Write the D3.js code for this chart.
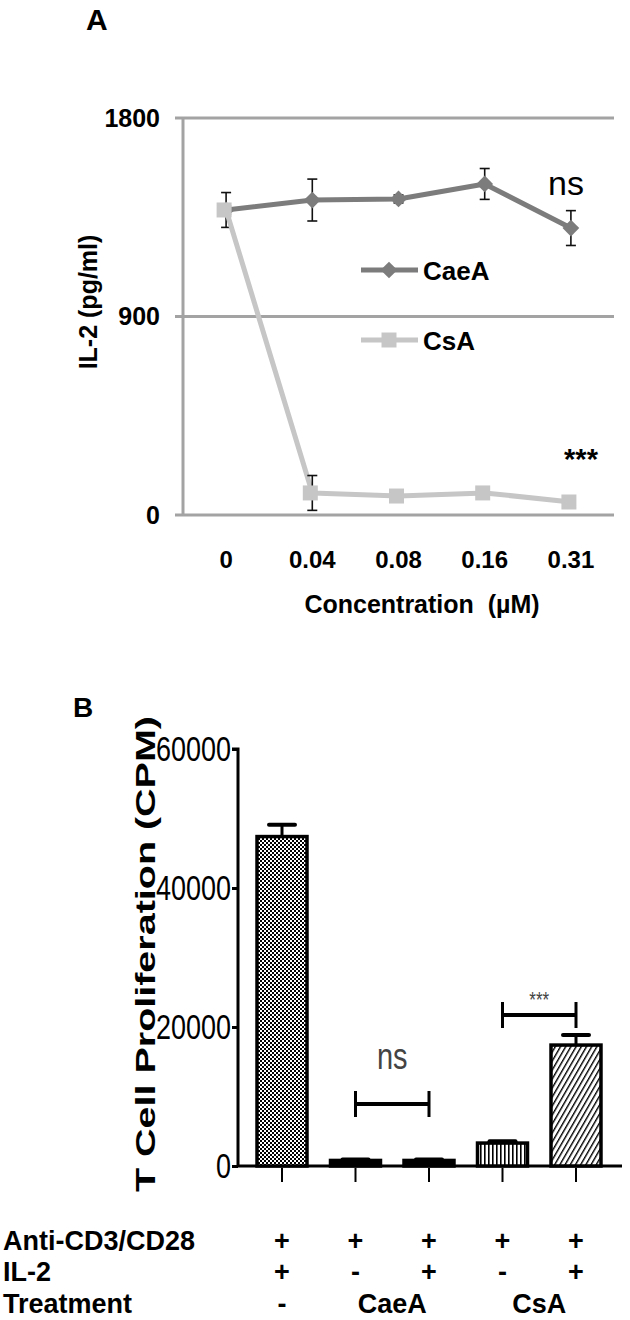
<!DOCTYPE html>
<html>
<head>
<meta charset="utf-8">
<script src="https://cdn.jsdelivr.net/npm/d3@7"></script>
<style>
  html, body { margin: 0; padding: 0; background: #fff; }
  svg { display: block; }
  text { font-family: "Liberation Sans", Arial, Helvetica, sans-serif; }
</style>
</head>
<body>
<svg id="chart" width="630" height="1320"></svg>
<script>
// ---------- Panel A data ----------
const concCategories = ["0", "0.04", "0.08", "0.16", "0.31"];
const caeaValues = [1383, 1428, 1433, 1501, 1301];
const caeaErrors = [79, 95, 18, 70, 79];
const csaValues = [1383, 100, 86, 100, 59];
const csaErrors = [20, 79, 12, 12, 12];
const yTicksA = [0, 900, 1800];
const seriesNamesA = ["CaeA", "CsA"];

// ---------- Panel B data ----------
const groupKeys = ["ctrl", "caeaNoIL2", "caeaIL2", "csaNoIL2", "csaIL2"];
const proliferationValues = [47400, 800, 800, 3300, 17400];
const proliferationErrors = [1700, 150, 150, 250, 1450];
const yTicksB = [0, 20000, 40000, 60000];
const rowLabels = ["Anti-CD3/CD28", "IL-2", "Treatment"];
const antiCD3Row = ["+", "+", "+", "+", "+"];
const il2Row = ["+", "-", "+", "-", "+"];
const treatmentLabels = ["-", "CaeA", "CsA"];
const treatmentSpans = [[0, 0], [1, 2], [3, 4]];

const svg = d3.select("#chart");

// ======================= PANEL A =======================
const xA = d3.scaleBand().domain(concCategories).range([183, 614]);
const yA = d3.scaleLinear().domain([0, 1800]).range([515, 118]);
const cx = c => xA(c) + xA.bandwidth() / 2;
const gridColor = "#a3a3a3";
const caeaColor = "#7c7c7c";
const csaColor = "#c6c6c6";

svg.append("text").attr("x", 86).attr("y", 30)
  .attr("font-size", 30).attr("font-weight", "bold").text("A");

const gA = svg.append("g");
gA.selectAll("line.grid").data(yTicksA).join("line")
  .attr("x1", 175).attr("x2", 614)
  .attr("y1", d => yA(d)).attr("y2", d => yA(d))
  .attr("stroke", gridColor).attr("stroke-width", 3);
gA.append("line").attr("x1", 183).attr("x2", 183)
  .attr("y1", yA(1800)).attr("y2", yA(0))
  .attr("stroke", gridColor).attr("stroke-width", 3);

gA.selectAll("text.ytick").data(yTicksA).join("text")
  .attr("x", 160).attr("y", d => yA(d)).attr("dy", "0.35em")
  .attr("text-anchor", "end").attr("font-size", 25).attr("font-weight", "bold")
  .text(d => d);

gA.selectAll("text.xtick").data(concCategories).join("text")
  .attr("x", d => cx(d)).attr("y", 568)
  .attr("text-anchor", "middle").attr("font-size", 24).attr("font-weight", "bold")
  .text(d => d);

gA.append("text").attr("x", 422).attr("y", 613)
  .attr("text-anchor", "middle").attr("font-size", 25).attr("font-weight", "bold")
  .attr("xml:space", "preserve")
  .text("Concentration  (\u00B5M)");
gA.append("text")
  .attr("transform", "translate(97,302) rotate(-90)")
  .attr("text-anchor", "middle").attr("font-size", 25).attr("font-weight", "bold")
  .text("IL-2 (pg/ml)");

const lineA = d3.line().x((d, i) => cx(concCategories[i])).y(d => yA(d));
const diamond = d3.symbol().type(d3.symbolSquare).size(140);
const square = d3.symbol().type(d3.symbolSquare).size(225);

function errorBars(g, vals, errs) {
  const eb = g.append("g").attr("stroke", "#111").attr("stroke-width", 1.6);
  vals.forEach((v, i) => {
    const x = cx(concCategories[i]);
    eb.append("line").attr("x1", x).attr("x2", x).attr("y1", yA(v - errs[i])).attr("y2", yA(v + errs[i]));
    eb.append("line").attr("x1", x - 5).attr("x2", x + 5).attr("y1", yA(v - errs[i])).attr("y2", yA(v - errs[i]));
    eb.append("line").attr("x1", x - 5).attr("x2", x + 5).attr("y1", yA(v + errs[i])).attr("y2", yA(v + errs[i]));
  });
}

// CaeA series
gA.append("path").datum(caeaValues).attr("d", lineA)
  .attr("fill", "none").attr("stroke", caeaColor).attr("stroke-width", 5).attr("stroke-linejoin", "round");
errorBars(gA, caeaValues, caeaErrors);
gA.selectAll("path.caeaMk").data(caeaValues).join("path")
  .attr("d", diamond).attr("fill", caeaColor)
  .attr("transform", (d, i) => `translate(${cx(concCategories[i])},${yA(d)}) rotate(45)`);

// CsA series
gA.append("path").datum(csaValues).attr("d", lineA)
  .attr("fill", "none").attr("stroke", csaColor).attr("stroke-width", 5).attr("stroke-linejoin", "round");
errorBars(gA, csaValues, csaErrors);
gA.selectAll("path.csaMk").data(csaValues).join("path")
  .attr("d", square).attr("fill", csaColor)
  .attr("transform", (d, i) => `translate(${cx(concCategories[i]) - 2},${yA(d)})`);

// legend
const legY = [270, 340];
seriesNamesA.forEach((name, i) => {
  const col = i === 0 ? caeaColor : csaColor;
  gA.append("line").attr("x1", 361).attr("x2", 418).attr("y1", legY[i]).attr("y2", legY[i])
    .attr("stroke", col).attr("stroke-width", 5);
  gA.append("path").attr("d", i === 0 ? diamond : square).attr("fill", col)
    .attr("transform", `translate(389,${legY[i]})` + (i === 0 ? " rotate(45)" : ""));
  gA.append("text").attr("x", 423).attr("y", legY[i] + 10)
    .attr("font-size", 26).attr("font-weight", "bold").text(name);
});

gA.append("text").attr("x", 566).attr("y", 195).attr("text-anchor", "middle")
  .attr("font-size", 34).text("ns");
gA.append("text").attr("x", 581).attr("y", 469).attr("text-anchor", "middle")
  .attr("font-size", 29).attr("font-weight", "bold").text("***");

// ======================= PANEL B =======================
const axisX = 238;
const xB = d3.scaleBand().domain(groupKeys).range([245.25, 612.75]).paddingInner(0.32).paddingOuter(0.16);
const yB = d3.scaleLinear().domain([0, 60000]).range([1166, 749]);
const bx = k => xB(k) + xB.bandwidth() / 2;
const gB = svg.append("g");

svg.append("text").attr("x", 73).attr("y", 717)
  .attr("font-size", 28).attr("font-weight", "bold").text("B");

const defs = svg.append("defs");
const pChk = defs.append("pattern").attr("id", "checker").attr("patternUnits", "userSpaceOnUse")
  .attr("width", 4).attr("height", 4);
pChk.append("rect").attr("width", 4).attr("height", 4).attr("fill", "#fff");
pChk.append("rect").attr("width", 2).attr("height", 2).attr("fill", "#000");
pChk.append("rect").attr("x", 2).attr("y", 2).attr("width", 2).attr("height", 2).attr("fill", "#000");
const pVert = defs.append("pattern").attr("id", "vstripe").attr("patternUnits", "userSpaceOnUse")
  .attr("width", 4).attr("height", 4);
pVert.append("rect").attr("width", 4).attr("height", 4).attr("fill", "#fff");
pVert.append("rect").attr("width", 1.6).attr("height", 4).attr("fill", "#000");
const pDiag = defs.append("pattern").attr("id", "diag").attr("patternUnits", "userSpaceOnUse")
  .attr("width", 4.5).attr("height", 4.5).attr("patternTransform", "rotate(30)");
pDiag.append("rect").attr("width", 4.5).attr("height", 4.5).attr("fill", "#fff");
pDiag.append("rect").attr("width", 1.4).attr("height", 4.5).attr("fill", "#000");
const fills = ["url(#checker)", "#000", "#000", "url(#vstripe)", "url(#diag)"];

const axisB = d3.axisLeft(yB).tickValues(yTicksB).tickSize(6).tickPadding(1).tickFormat(d3.format("d"));
const axG = gB.append("g").attr("transform", `translate(${axisX},0)`).call(axisB);
axG.select(".domain").attr("stroke", "#000").attr("stroke-width", 3).attr("d", `M-6,${yB(60000)}H0V${yB(0)}`);
axG.selectAll(".tick line").attr("stroke", "#000").attr("stroke-width", 3);
axG.selectAll(".tick text")
  .attr("font-family", "'Liberation Sans Narrow', 'Arial Narrow', 'Liberation Sans', sans-serif")
  .attr("font-size", 27).attr("fill", "#000")
  .attr("transform", "scale(1,1.3)");

gB.append("line").attr("x1", axisX).attr("x2", 622).attr("y1", yB(0)).attr("y2", yB(0))
  .attr("stroke", "#000").attr("stroke-width", 3);
gB.selectAll("line.xt").data(groupKeys).join("line")
  .attr("x1", d => bx(d)).attr("x2", d => bx(d))
  .attr("y1", yB(0) + 2).attr("y2", yB(0) + 16)
  .attr("stroke", "#000").attr("stroke-width", 2);

gB.selectAll("rect.bar").data(proliferationValues).join("rect")
  .attr("x", (d, i) => xB(groupKeys[i]))
  .attr("y", d => yB(d))
  .attr("width", xB.bandwidth())
  .attr("height", d => yB(0) - yB(d))
  .attr("fill", (d, i) => fills[i])
  .attr("stroke", "#000").attr("stroke-width", 3.5);

proliferationValues.forEach((v, i) => {
  const x = bx(groupKeys[i]);
  gB.append("line").attr("x1", x).attr("x2", x).attr("y1", yB(v)).attr("y2", yB(v + proliferationErrors[i]))
    .attr("stroke", "#000").attr("stroke-width", 3);
  gB.append("line").attr("x1", x - 13).attr("x2", x + 13)
    .attr("y1", yB(v + proliferationErrors[i])).attr("y2", yB(v + proliferationErrors[i]))
    .attr("stroke", "#000").attr("stroke-width", 4).attr("stroke-linecap", "round");
});

gB.append("text")
  .attr("transform", "translate(155,954) rotate(-90)")
  .attr("text-anchor", "middle").attr("font-size", 28).attr("font-weight", "bold")
  .attr("textLength", 476).attr("lengthAdjust", "spacingAndGlyphs")
  .text("T Cell Proliferation (CPM)");

function bracket(i1, i2, y, label, labelY, size) {
  const x1 = bx(groupKeys[i1]), x2 = bx(groupKeys[i2]);
  gB.append("line").attr("x1", x1).attr("x2", x2).attr("y1", y).attr("y2", y)
    .attr("stroke", "#000").attr("stroke-width", 4);
  [x1, x2].forEach(x => gB.append("line").attr("x1", x).attr("x2", x).attr("y1", y - 13).attr("y2", y + 13)
    .attr("stroke", "#000").attr("stroke-width", 3));
  gB.append("text").attr("x", (x1 + x2) / 2).attr("y", labelY).attr("text-anchor", "middle")
    .attr("font-family", "'Liberation Sans Narrow', 'Arial Narrow', 'Liberation Sans', sans-serif")
    .attr("font-size", size).attr("fill", "#444")
    .attr("transform", `translate(0,${labelY}) scale(1,1.3) translate(0,${-labelY})`)
    .text(label);
}
bracket(1, 2, 1104, "ns", 1069, 29);
bracket(3, 4, 1015, "***", 1007, 17);

const rowY = [1250, 1281, 1313];
rowLabels.forEach((lab, r) => {
  svg.append("text").attr("x", 3).attr("y", rowY[r])
    .attr("font-size", 27).attr("font-weight", "bold").text(lab);
});
[antiCD3Row, il2Row].forEach((row, r) => {
  svg.selectAll(null).data(row).join("text")
    .attr("x", (d, i) => bx(groupKeys[i])).attr("y", rowY[r])
    .attr("text-anchor", "middle").attr("font-size", 27).attr("font-weight", "bold")
    .text(d => d);
});
treatmentLabels.forEach((lab, t) => {
  const [a, b] = treatmentSpans[t];
  svg.append("text").attr("x", (bx(groupKeys[a]) + bx(groupKeys[b])) / 2).attr("y", rowY[2])
    .attr("text-anchor", "middle").attr("font-size", 27).attr("font-weight", "bold")
    .text(lab);
});
</script>
</body>
</html>
